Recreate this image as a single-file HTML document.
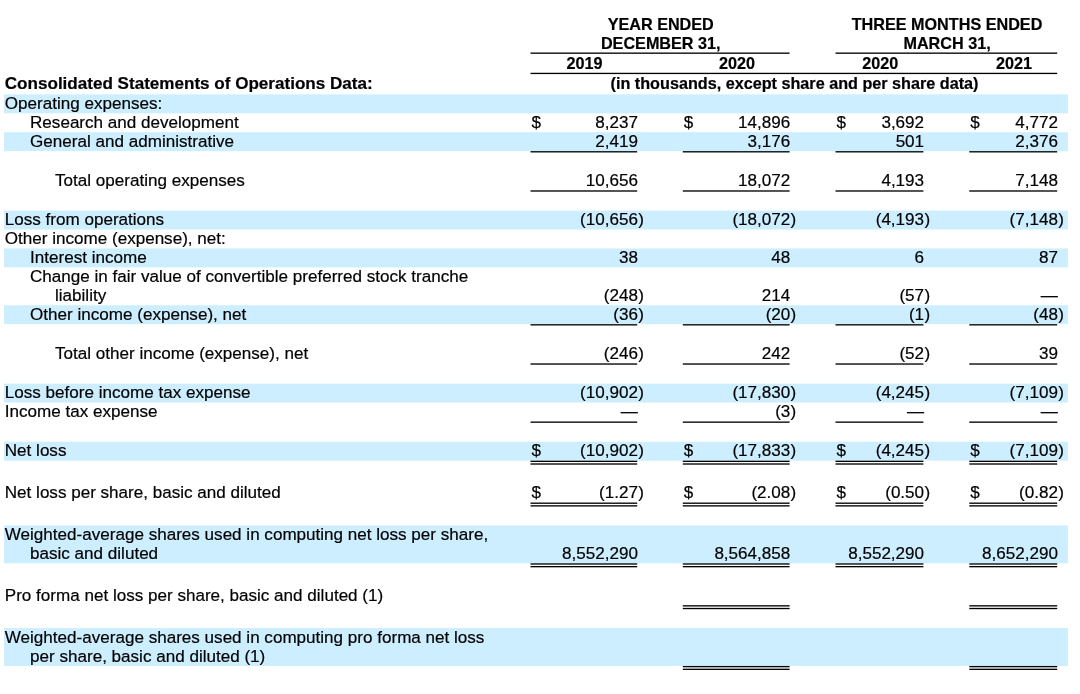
<!DOCTYPE html>
<html lang="en"><head><meta charset="utf-8"><title>Consolidated Statements of Operations Data</title>
<style>
html,body{margin:0;padding:0;background:#fff;}
body{width:1080px;height:694px;position:relative;overflow:hidden;font-family:"Liberation Sans",Arial,Helvetica,sans-serif;font-size:17.07px;line-height:19px;color:#000;}
svg.s{position:absolute;left:0;top:0;width:1080px;height:694px;}
.x{position:absolute;left:0;top:0;width:1080px;height:694px;will-change:transform;-webkit-text-stroke:0.2px #000;}
.t{position:absolute;white-space:nowrap;}
.bd{font-weight:bold;}
.h{font-size:16.2px;line-height:18.93px;}
.r{text-align:right;}
.c{text-align:center;}
</style></head>
<body>
<svg class="s" viewBox="0 0 1080 694" width="1080" height="694">
<rect x="530.50" y="52.50" width="259.10" height="1.33" fill="#000"/>
<rect x="835.50" y="52.50" width="221.70" height="1.33" fill="#000"/>
<rect x="530.50" y="72.76" width="526.70" height="1.33" fill="#000"/>
<rect x="4.05" y="94.35" width="1063.85" height="18.93" fill="#cceeff"/>
<rect x="4.05" y="132.21" width="1063.85" height="18.93" fill="#cceeff"/>
<rect x="530.50" y="151.14" width="106.70" height="1.33" fill="#000"/>
<rect x="682.80" y="151.14" width="106.80" height="1.33" fill="#000"/>
<rect x="835.50" y="151.14" width="87.90" height="1.33" fill="#000"/>
<rect x="969.30" y="151.14" width="87.90" height="1.33" fill="#000"/>
<rect x="530.50" y="190.33" width="106.70" height="1.33" fill="#000"/>
<rect x="682.80" y="190.33" width="106.80" height="1.33" fill="#000"/>
<rect x="835.50" y="190.33" width="87.90" height="1.33" fill="#000"/>
<rect x="969.30" y="190.33" width="87.90" height="1.33" fill="#000"/>
<rect x="4.05" y="210.59" width="1063.85" height="18.93" fill="#cceeff"/>
<rect x="4.05" y="248.45" width="1063.85" height="18.93" fill="#cceeff"/>
<rect x="4.05" y="305.24" width="1063.85" height="18.93" fill="#cceeff"/>
<rect x="530.50" y="324.17" width="106.70" height="1.33" fill="#000"/>
<rect x="682.80" y="324.17" width="106.80" height="1.33" fill="#000"/>
<rect x="835.50" y="324.17" width="87.90" height="1.33" fill="#000"/>
<rect x="969.30" y="324.17" width="87.90" height="1.33" fill="#000"/>
<rect x="530.50" y="363.36" width="106.70" height="1.33" fill="#000"/>
<rect x="682.80" y="363.36" width="106.80" height="1.33" fill="#000"/>
<rect x="835.50" y="363.36" width="87.90" height="1.33" fill="#000"/>
<rect x="969.30" y="363.36" width="87.90" height="1.33" fill="#000"/>
<rect x="4.05" y="383.62" width="1063.85" height="18.93" fill="#cceeff"/>
<rect x="530.50" y="421.48" width="106.70" height="1.33" fill="#000"/>
<rect x="682.80" y="421.48" width="106.80" height="1.33" fill="#000"/>
<rect x="835.50" y="421.48" width="87.90" height="1.33" fill="#000"/>
<rect x="969.30" y="421.48" width="87.90" height="1.33" fill="#000"/>
<rect x="4.05" y="441.74" width="1063.85" height="18.93" fill="#cceeff"/>
<rect x="530.50" y="460.67" width="106.70" height="1.33" fill="#000"/>
<rect x="530.50" y="463.34" width="106.70" height="1.33" fill="#000"/>
<rect x="682.80" y="460.67" width="106.80" height="1.33" fill="#000"/>
<rect x="682.80" y="463.34" width="106.80" height="1.33" fill="#000"/>
<rect x="835.50" y="460.67" width="87.90" height="1.33" fill="#000"/>
<rect x="835.50" y="463.34" width="87.90" height="1.33" fill="#000"/>
<rect x="969.30" y="460.67" width="87.90" height="1.33" fill="#000"/>
<rect x="969.30" y="463.34" width="87.90" height="1.33" fill="#000"/>
<rect x="530.50" y="502.53" width="106.70" height="1.33" fill="#000"/>
<rect x="530.50" y="505.20" width="106.70" height="1.33" fill="#000"/>
<rect x="682.80" y="502.53" width="106.80" height="1.33" fill="#000"/>
<rect x="682.80" y="505.20" width="106.80" height="1.33" fill="#000"/>
<rect x="835.50" y="502.53" width="87.90" height="1.33" fill="#000"/>
<rect x="835.50" y="505.20" width="87.90" height="1.33" fill="#000"/>
<rect x="969.30" y="502.53" width="87.90" height="1.33" fill="#000"/>
<rect x="969.30" y="505.20" width="87.90" height="1.33" fill="#000"/>
<rect x="4.05" y="525.46" width="1063.85" height="37.86" fill="#cceeff"/>
<rect x="530.50" y="563.32" width="106.70" height="1.33" fill="#000"/>
<rect x="530.50" y="565.99" width="106.70" height="1.33" fill="#000"/>
<rect x="682.80" y="563.32" width="106.80" height="1.33" fill="#000"/>
<rect x="682.80" y="565.99" width="106.80" height="1.33" fill="#000"/>
<rect x="835.50" y="563.32" width="87.90" height="1.33" fill="#000"/>
<rect x="835.50" y="565.99" width="87.90" height="1.33" fill="#000"/>
<rect x="969.30" y="563.32" width="87.90" height="1.33" fill="#000"/>
<rect x="969.30" y="565.99" width="87.90" height="1.33" fill="#000"/>
<rect x="682.80" y="605.18" width="106.80" height="1.33" fill="#000"/>
<rect x="682.80" y="607.85" width="106.80" height="1.33" fill="#000"/>
<rect x="969.30" y="605.18" width="87.90" height="1.33" fill="#000"/>
<rect x="969.30" y="607.85" width="87.90" height="1.33" fill="#000"/>
<rect x="4.05" y="628.11" width="1063.85" height="37.86" fill="#cceeff"/>
<rect x="682.80" y="665.97" width="106.80" height="1.33" fill="#000"/>
<rect x="682.80" y="668.64" width="106.80" height="1.33" fill="#000"/>
<rect x="969.30" y="665.97" width="87.90" height="1.33" fill="#000"/>
<rect x="969.30" y="668.64" width="87.90" height="1.33" fill="#000"/>
</svg>
<div class="x">
<div class="t bd c h" style="top:15.02px;left:531.20px;width:259.10px">YEAR ENDED<br>DECEMBER 31,</div>
<div class="t bd c h" style="top:15.02px;left:836.20px;width:221.70px">THREE MONTHS ENDED<br>MARCH 31,</div>
<div class="t bd c h" style="top:53.96px;left:531.20px;width:106.70px">2019</div>
<div class="t bd c h" style="top:53.96px;left:683.50px;width:106.80px">2020</div>
<div class="t bd c h" style="top:53.96px;left:836.20px;width:87.90px">2020</div>
<div class="t bd c h" style="top:53.96px;left:970.00px;width:87.90px">2021</div>
<div class="t bd c h" style="top:74.22px;left:531.20px;width:526.70px">(in thousands, except share and per share data)</div>
<div class="t bd" style="top:74.46px;left:4.80px">Consolidated Statements of Operations Data:</div>
<div class="t" style="top:93.90px;left:4.80px">Operating expenses:</div>
<div class="t" style="top:112.83px;left:30.05px">Research and development</div>
<div class="t" style="top:112.83px;left:531.50px">$</div>
<div class="t r" style="top:112.83px;left:530.50px;width:107.40px">8,237</div>
<div class="t" style="top:112.83px;left:683.80px">$</div>
<div class="t r" style="top:112.83px;left:682.80px;width:107.50px">14,896</div>
<div class="t" style="top:112.83px;left:836.50px">$</div>
<div class="t r" style="top:112.83px;left:835.50px;width:88.60px">3,692</div>
<div class="t" style="top:112.83px;left:970.30px">$</div>
<div class="t r" style="top:112.83px;left:969.30px;width:88.60px">4,772</div>
<div class="t" style="top:131.76px;left:30.05px">General and administrative</div>
<div class="t r" style="top:131.76px;left:530.50px;width:107.40px">2,419</div>
<div class="t r" style="top:131.76px;left:682.80px;width:107.50px">3,176</div>
<div class="t r" style="top:131.76px;left:835.50px;width:88.60px">501</div>
<div class="t r" style="top:131.76px;left:969.30px;width:88.60px">2,376</div>
<div class="t" style="top:170.95px;left:55.00px">Total operating expenses</div>
<div class="t r" style="top:170.95px;left:530.50px;width:107.40px">10,656</div>
<div class="t r" style="top:170.95px;left:682.80px;width:107.50px">18,072</div>
<div class="t r" style="top:170.95px;left:835.50px;width:88.60px">4,193</div>
<div class="t r" style="top:170.95px;left:969.30px;width:88.60px">7,148</div>
<div class="t" style="top:210.14px;left:4.80px">Loss from operations</div>
<div class="t r" style="top:210.14px;left:530.50px;width:107.40px">(10,656</div>
<div class="t" style="top:210.14px;left:638.20px">)</div>
<div class="t r" style="top:210.14px;left:682.80px;width:107.50px">(18,072</div>
<div class="t" style="top:210.14px;left:790.60px">)</div>
<div class="t r" style="top:210.14px;left:835.50px;width:88.60px">(4,193</div>
<div class="t" style="top:210.14px;left:924.40px">)</div>
<div class="t r" style="top:210.14px;left:969.30px;width:88.60px">(7,148</div>
<div class="t" style="top:210.14px;left:1058.20px">)</div>
<div class="t" style="top:229.07px;left:4.80px">Other income (expense), net:</div>
<div class="t" style="top:248.00px;left:30.05px">Interest income</div>
<div class="t r" style="top:248.00px;left:530.50px;width:107.40px">38</div>
<div class="t r" style="top:248.00px;left:682.80px;width:107.50px">48</div>
<div class="t r" style="top:248.00px;left:835.50px;width:88.60px">6</div>
<div class="t r" style="top:248.00px;left:969.30px;width:88.60px">87</div>
<div class="t" style="top:266.93px;left:30.05px">Change in fair value of convertible preferred stock tranche</div>
<div class="t" style="top:285.86px;left:55.00px">liability</div>
<div class="t r" style="top:285.86px;left:530.50px;width:107.40px">(248</div>
<div class="t" style="top:285.86px;left:638.20px">)</div>
<div class="t r" style="top:285.86px;left:682.80px;width:107.50px">214</div>
<div class="t r" style="top:285.86px;left:835.50px;width:88.60px">(57</div>
<div class="t" style="top:285.86px;left:924.40px">)</div>
<div class="t r" style="top:285.86px;left:969.30px;width:88.60px">—</div>
<div class="t" style="top:304.79px;left:30.05px">Other income (expense), net</div>
<div class="t r" style="top:304.79px;left:530.50px;width:107.40px">(36</div>
<div class="t" style="top:304.79px;left:638.20px">)</div>
<div class="t r" style="top:304.79px;left:682.80px;width:107.50px">(20</div>
<div class="t" style="top:304.79px;left:790.60px">)</div>
<div class="t r" style="top:304.79px;left:835.50px;width:88.60px">(1</div>
<div class="t" style="top:304.79px;left:924.40px">)</div>
<div class="t r" style="top:304.79px;left:969.30px;width:88.60px">(48</div>
<div class="t" style="top:304.79px;left:1058.20px">)</div>
<div class="t" style="top:343.98px;left:55.00px">Total other income (expense), net</div>
<div class="t r" style="top:343.98px;left:530.50px;width:107.40px">(246</div>
<div class="t" style="top:343.98px;left:638.20px">)</div>
<div class="t r" style="top:343.98px;left:682.80px;width:107.50px">242</div>
<div class="t r" style="top:343.98px;left:835.50px;width:88.60px">(52</div>
<div class="t" style="top:343.98px;left:924.40px">)</div>
<div class="t r" style="top:343.98px;left:969.30px;width:88.60px">39</div>
<div class="t" style="top:383.17px;left:4.80px">Loss before income tax expense</div>
<div class="t r" style="top:383.17px;left:530.50px;width:107.40px">(10,902</div>
<div class="t" style="top:383.17px;left:638.20px">)</div>
<div class="t r" style="top:383.17px;left:682.80px;width:107.50px">(17,830</div>
<div class="t" style="top:383.17px;left:790.60px">)</div>
<div class="t r" style="top:383.17px;left:835.50px;width:88.60px">(4,245</div>
<div class="t" style="top:383.17px;left:924.40px">)</div>
<div class="t r" style="top:383.17px;left:969.30px;width:88.60px">(7,109</div>
<div class="t" style="top:383.17px;left:1058.20px">)</div>
<div class="t" style="top:402.10px;left:4.80px">Income tax expense</div>
<div class="t r" style="top:402.10px;left:530.50px;width:107.40px">—</div>
<div class="t r" style="top:402.10px;left:682.80px;width:107.50px">(3</div>
<div class="t" style="top:402.10px;left:790.60px">)</div>
<div class="t r" style="top:402.10px;left:835.50px;width:88.60px">—</div>
<div class="t r" style="top:402.10px;left:969.30px;width:88.60px">—</div>
<div class="t" style="top:441.29px;left:4.80px">Net loss</div>
<div class="t" style="top:441.29px;left:531.50px">$</div>
<div class="t r" style="top:441.29px;left:530.50px;width:107.40px">(10,902</div>
<div class="t" style="top:441.29px;left:638.20px">)</div>
<div class="t" style="top:441.29px;left:683.80px">$</div>
<div class="t r" style="top:441.29px;left:682.80px;width:107.50px">(17,833</div>
<div class="t" style="top:441.29px;left:790.60px">)</div>
<div class="t" style="top:441.29px;left:836.50px">$</div>
<div class="t r" style="top:441.29px;left:835.50px;width:88.60px">(4,245</div>
<div class="t" style="top:441.29px;left:924.40px">)</div>
<div class="t" style="top:441.29px;left:970.30px">$</div>
<div class="t r" style="top:441.29px;left:969.30px;width:88.60px">(7,109</div>
<div class="t" style="top:441.29px;left:1058.20px">)</div>
<div class="t" style="top:483.15px;left:4.80px">Net loss per share, basic and diluted</div>
<div class="t" style="top:483.15px;left:531.50px">$</div>
<div class="t r" style="top:483.15px;left:530.50px;width:107.40px">(1.27</div>
<div class="t" style="top:483.15px;left:638.20px">)</div>
<div class="t" style="top:483.15px;left:683.80px">$</div>
<div class="t r" style="top:483.15px;left:682.80px;width:107.50px">(2.08</div>
<div class="t" style="top:483.15px;left:790.60px">)</div>
<div class="t" style="top:483.15px;left:836.50px">$</div>
<div class="t r" style="top:483.15px;left:835.50px;width:88.60px">(0.50</div>
<div class="t" style="top:483.15px;left:924.40px">)</div>
<div class="t" style="top:483.15px;left:970.30px">$</div>
<div class="t r" style="top:483.15px;left:969.30px;width:88.60px">(0.82</div>
<div class="t" style="top:483.15px;left:1058.20px">)</div>
<div class="t" style="top:525.01px;left:4.80px">Weighted-average shares used in computing net loss per share,</div>
<div class="t" style="top:543.94px;left:30.05px">basic and diluted</div>
<div class="t r" style="top:543.94px;left:530.50px;width:107.40px">8,552,290</div>
<div class="t r" style="top:543.94px;left:682.80px;width:107.50px">8,564,858</div>
<div class="t r" style="top:543.94px;left:835.50px;width:88.60px">8,552,290</div>
<div class="t r" style="top:543.94px;left:969.30px;width:88.60px">8,652,290</div>
<div class="t" style="top:585.80px;left:4.80px">Pro forma net loss per share, basic and diluted (1)</div>
<div class="t" style="top:627.66px;left:4.80px">Weighted-average shares used in computing pro forma net loss</div>
<div class="t" style="top:646.59px;left:30.05px">per share, basic and diluted (1)</div>
</div>
</body></html>
